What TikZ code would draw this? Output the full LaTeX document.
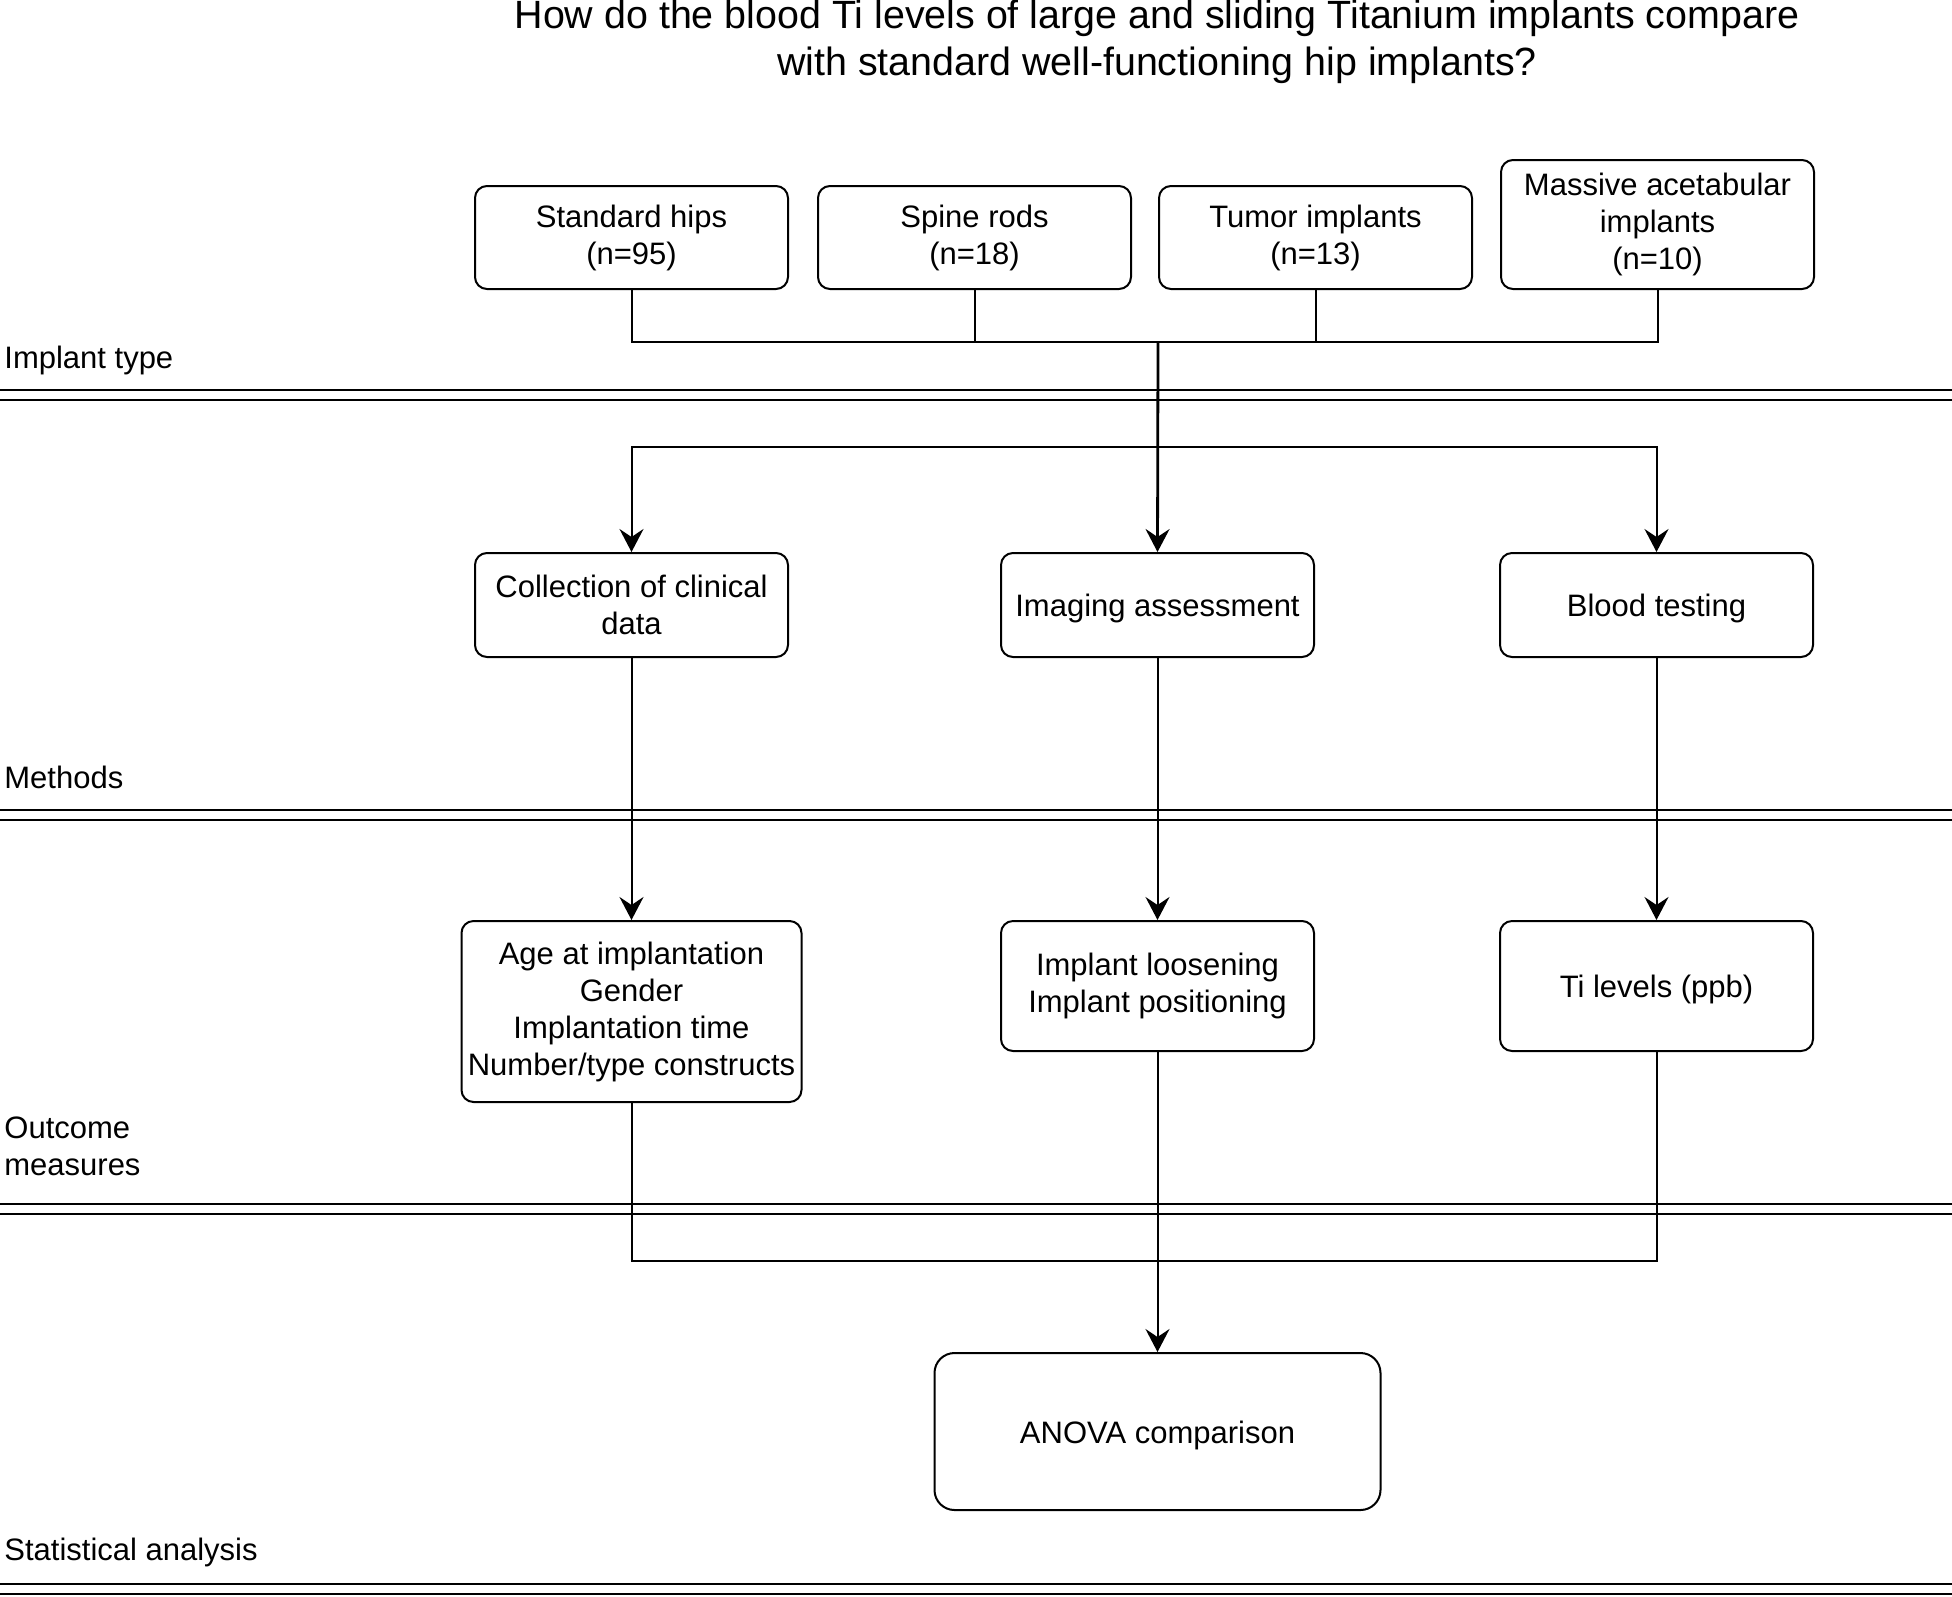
\documentclass[tikz,border=0pt]{standalone}
\usepackage{fontspec}
\setmainfont{Liberation Sans}
\usetikzlibrary{arrows.meta,positioning}

\begin{document}
\begin{tikzpicture}[
        x=0.5pt, y=-0.5pt,
        node distance=131pt,
        box/.style={rectangle, draw, line width=1pt, rounded corners=6pt, minimum width=156.5pt, minimum height=52pt, align=center, inner sep=2pt, execute at begin node={\rule{0pt}{15pt}}, font=\fontsize{15.5pt}{18.5pt}\selectfont},
        lane/.style={anchor=west, align=left, inner sep=0pt, font=\fontsize{15.5pt}{18.5pt}\selectfont},
        divider/.style={double, double distance=4pt, line width=1pt},
        link/.style={line width=1pt},
        arr/.style={link, -{Stealth[length=11.5pt, width=12pt, inset=4pt]}}
    ]
        \useasboundingbox (0,0) rectangle (1952,1596);
        \node[align=center, font=\fontsize{19.7pt}{23.5pt}\selectfont] (title) at (1157,42) {How do the blood Ti levels of large and sliding Titanium implants compare\\with standard well-functioning hip implants?};

        \node[box, minimum height=51.5pt] (hips) at (631.5,237.5) {Standard hips\\(n=95)};
        \node[box, minimum height=51.5pt, right=14pt of hips] (spine) {Spine rods\\(n=18)};
        \node[box, minimum height=51.5pt, right=13pt of spine] (tumor) {Tumor implants\\(n=13)};
        \node[box, minimum height=64.5pt, right=13.5pt of tumor.south east, anchor=south west] (massive) {Massive acetabular\\implants\\(n=10)};

        \node[box, below=131pt of hips] (collect) {Collection of clinical\\data};
        \node[box, right=105.5pt of collect] (imaging) {Imaging assessment};
        \node[box, right=92pt of imaging] (blood) {Blood testing};

        \node[box, minimum width=170pt, minimum height=90.5pt, below=131pt of collect] (age) {Age at implantation\\Gender\\Implantation time\\Number/type constructs};
        \node[box, minimum height=65pt, below=131pt of imaging] (loosening) {Implant loosening\\Implant positioning};
        \node[box, minimum height=65pt, below=131pt of blood] (tilevel) {Ti levels (ppb)};
        \node[box, minimum width=223pt, minimum height=78.5pt, rounded corners=10pt, below=150pt of loosening] (anova) {ANOVA comparison};

        % lanes
        \node[lane] (lane1) at (4,360) {Implant type};
        \node[lane] (lane2) at (4,777) {Methods};
        \node[lane] (lane3) at (4,1146) {Outcome\\measures};
        \node[lane] (lane4) at (4,1552) {Statistical analysis};
        \foreach \y in {394.5,814.5,1208.5,1588.5}
            \draw[divider] (0,\y) -- (1952,\y);

        % connectors
        \coordinate (join1) at (1158,342);
        \coordinate (join2) at (1158,447);
        \coordinate (join3) at (1158,1261);
        \foreach \n in {hips,spine,tumor,massive}
            \draw[link] (\n.south) |- (join1);
        \draw[arr, line width=1.4pt] (join1) -- (imaging.north);
        \draw[arr] (join2) -| (collect.north);
        \draw[arr] (join2) -| (blood.north);

        \draw[arr] (collect) -- (age);
        \draw[arr] (imaging) -- (loosening);
        \draw[arr] (blood) -- (tilevel);

        \draw[link] (age.south) |- (join3);
        \draw[link] (tilevel.south) |- (join3);
        \draw[arr] (loosening) -- (anova);
    \end{tikzpicture}
\end{document}
